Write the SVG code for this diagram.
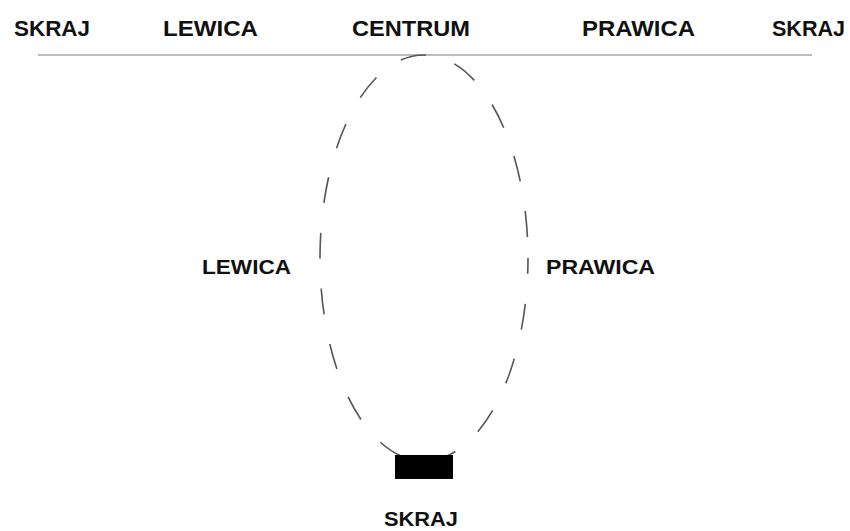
<svg xmlns="http://www.w3.org/2000/svg" width="850" height="531" viewBox="0 0 850 531">
<style>
.t{font-family:"Liberation Sans",Arial,sans-serif;fill:#111;font-weight:bold;}
.top{font-size:22px;}
.mid{font-size:20px;}
.ell{fill:none;stroke:#555;stroke-width:1.6;stroke-dasharray:26 30;}
</style>
<rect width="850" height="531" fill="#fff"/>
<g id="axis">
<line x1="38" y1="55" x2="812" y2="55" stroke="#bbb" stroke-width="2"/>
</g>
<g id="labels-top">
<text class="t top" x="14" y="36" textLength="76" lengthAdjust="spacingAndGlyphs">SKRAJ</text>
<text class="t top" x="163" y="36" textLength="95" lengthAdjust="spacingAndGlyphs">LEWICA</text>
<text class="t top" x="352" y="36" textLength="118" lengthAdjust="spacingAndGlyphs">CENTRUM</text>
<text class="t top" x="582" y="36" textLength="113" lengthAdjust="spacingAndGlyphs">PRAWICA</text>
<text class="t top" x="772" y="36" textLength="73" lengthAdjust="spacingAndGlyphs">SKRAJ</text>
</g>
<g id="connectors">
<ellipse class="ell" cx="424" cy="258" rx="104" ry="203" stroke-dashoffset="10"/>
</g>
<g id="node-skraj-bottom">
<rect x="395" y="455" width="58" height="24" fill="#000"/>
<text class="t mid" x="384" y="526" font-size="20" textLength="74" lengthAdjust="spacingAndGlyphs">SKRAJ</text>
</g>
<g id="node-lewica">
<text class="t mid" x="202" y="274" textLength="89" lengthAdjust="spacingAndGlyphs">LEWICA</text>
</g>
<g id="node-prawica">
<text class="t mid" x="546" y="274" textLength="109" lengthAdjust="spacingAndGlyphs">PRAWICA</text>
</g>
</svg>
